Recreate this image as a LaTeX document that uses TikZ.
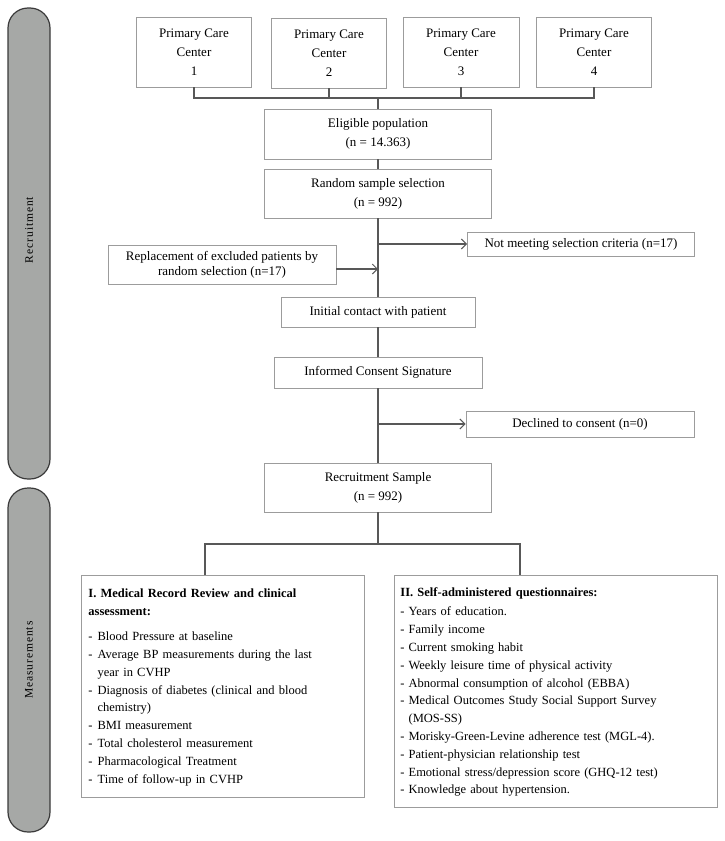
\documentclass[tikz,border=0pt]{standalone}
\usepackage{fontspec}
\setmainfont{Liberation Serif}
\usetikzlibrary{arrows.meta}
\definecolor{boxline}{HTML}{9C9C9C}
\definecolor{connline}{HTML}{585858}
\definecolor{barfill}{HTML}{A6A8A6}
\definecolor{barline}{HTML}{3A3A3A}
\begin{document}
\begin{tikzpicture}[x=1pt,y=-1pt,
  flowbox/.style={draw=boxline, line width=0.9pt, fill=white, align=center, inner sep=0pt,
    font=\fontsize{13}{19}\selectfont},
  listbox/.style={draw=boxline, line width=0.9pt, fill=white, align=left, anchor=north west,
    inner ysep=0pt, font=\fontsize{12.5}{17.8}\selectfont},
  conn/.style={draw=connline, line width=1.2pt},
  arr/.style={conn, -{Straight Barb[length=5pt,width=10pt,line width=1pt]}},
  sidebar/.style={draw=barline, fill=barfill, line width=1.2pt, rounded corners=20pt},
  sidelabel/.style={rotate=90, font=\fontsize{11.5}{13}\selectfont\addfontfeature{LetterSpace=8}}
]
\useasboundingbox (0,0) rectangle (725,841);

% side bars
\draw[sidebar] (8,8) rectangle (50,479);
\draw[sidebar] (8,488) rectangle (50,832);
\node[sidelabel] (lrec) at (29,230) {Recruitment};
\node[sidelabel] (lmeas) at (29,660) {Measurements};

% top boxes
\node[flowbox, minimum width=115, minimum height=70] (pc1) at (194,52) {Primary Care\\Center\\1};
\node[flowbox, minimum width=115, minimum height=70] (pc2) at (329,53) {Primary Care\\Center\\2};
\node[flowbox, minimum width=116, minimum height=70] (pc3) at (461,52) {Primary Care\\Center\\3};
\node[flowbox, minimum width=115, minimum height=70] (pc4) at (594,52) {Primary Care\\Center\\4};

% main column
\node[flowbox, minimum width=227, minimum height=50] (elig) at (378,134) {Eligible population\\(n = 14.363)};
\node[flowbox, minimum width=227, minimum height=49] (rand) at (378,193.5) {Random sample selection\\(n = 992)};
\node[flowbox, minimum width=227, minimum height=24] (notmeet) at (581,244) {Not meeting selection criteria (n=17)};
\node[flowbox, minimum width=228, minimum height=39, font=\fontsize{13}{15}\selectfont] (repl) at (222,264.5) {Replacement of excluded patients by\\random selection (n=17)};
\node[flowbox, minimum width=194, minimum height=30] (init) at (378,312) {Initial contact with patient};
\node[flowbox, minimum width=208, minimum height=31] (inf) at (378,372.5) {Informed Consent Signature};
\node[flowbox, minimum width=228, minimum height=26] (decl) at (580,424) {Declined to consent (n=0)};
\node[flowbox, minimum width=227, minimum height=49] (recs) at (378,487.5) {Recruitment Sample\\(n = 992)};

% bottom boxes
\node[listbox, text width=268.5, inner xsep=7pt, minimum height=222] (lbox) at (81,575) {%
\begin{tabular}{@{}l@{\hspace{5pt}}l@{}}
\multicolumn{2}{@{}l@{}}{\textbf{I. Medical Record Review and clinical}}\\[1pt]
\multicolumn{2}{@{}l@{}}{\textbf{assessment:}}\\[7pt]
- & Blood Pressure at baseline\\
- & Average BP measurements during the last\\
  & year in CVHP\\
- & Diagnosis of diabetes (clinical and blood\\
  & chemistry)\\
- & BMI measurement\\
- & Total cholesterol measurement\\
- & Pharmacological Treatment\\
- & Time of follow-up in CVHP
\end{tabular}};
\node[listbox, text width=311, inner xsep=6pt, minimum height=232] (rbox) at (394,575) {%
\begin{tabular}{@{}l@{\hspace{4pt}}l@{}}
\multicolumn{2}{@{}l@{}}{\textbf{II. Self-administered questionnaires:}}\\[2pt]
- & Years of education.\\
- & Family income\\
- & Current smoking habit\\
- & Weekly leisure time of physical activity\\
- & Abnormal consumption of alcohol (EBBA)\\
- & Medical Outcomes Study Social Support Survey\\
  & (MOS-SS)\\
- & Morisky-Green-Levine adherence test (MGL-4).\\
- & Patient-physician relationship test\\
- & Emotional stress/depression score (GHQ-12 test)\\
- & Knowledge about hypertension.
\end{tabular}};

% coordinates for connectors
\coordinate (jn) at (378,98);
\coordinate (b1) at (378,244);
\coordinate (b2) at (378,269);
\coordinate (b3) at (378,424);
\coordinate (b4) at (378,544);
\coordinate (bl) at (205,544);
\coordinate (br) at (520,544);

% connectors
\draw[conn] (pc1.south) -- (pc1.south |- jn) -- (pc4.south |- jn) -- (pc4.south);
\draw[conn] (pc2.south) -- (pc2.south |- jn);
\draw[conn] (pc3.south) -- (pc3.south |- jn);
\draw[conn] (jn) -- (elig.north);
\draw[conn] (elig.south) -- (rand.north);
\draw[conn] (rand.south) -- (init.north);
\draw[arr] (b1) -- (notmeet.west);
\draw[arr] (repl.east |- b2) -- (b2);
\draw[conn] (init.south) -- (inf.north);
\draw[conn] (inf.south) -- (recs.north);
\draw[arr] (b3) -- (decl.west);
\draw[conn] (recs.south) -- (b4);
\draw[conn] (bl |- lbox.north) -- (bl) -- (br) -- (br |- rbox.north);
\end{tikzpicture}
\end{document}
